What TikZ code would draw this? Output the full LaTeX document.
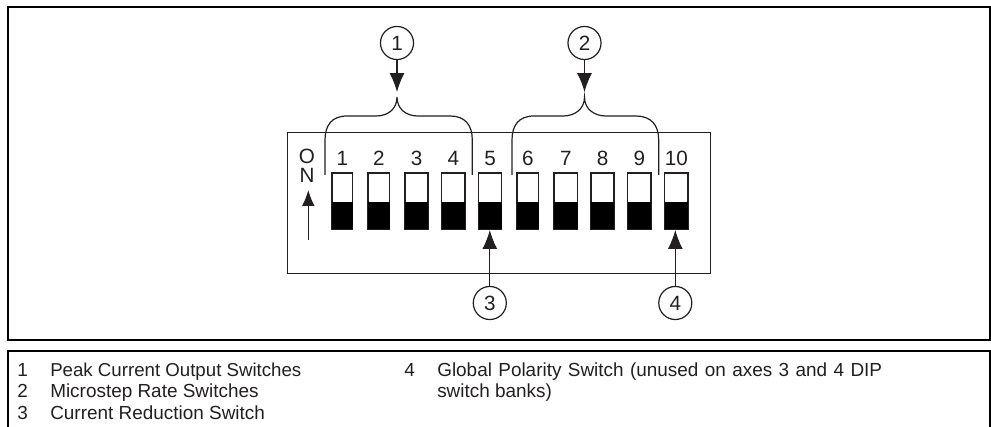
\documentclass[tikz,border=0pt]{standalone}
\usepackage{fontspec}
\setmainfont{Liberation Sans}
\usetikzlibrary{arrows.meta}
\definecolor{myink}{RGB}{35, 31, 32}
\tikzset{>={Latex[length=14.2pt,width=11.2pt]}}
\tikzset{lead/.style = {draw = myink, line width = 0.9pt},
  callout/.style = {circle, draw = myink, line width = 0.9pt, minimum size = 24.8pt, inner sep = 0pt, text = myink, font = \fontsize{15.5}{15.5}\selectfont},
  dipnum/.style = {text = myink, inner sep = 0pt, font = \fontsize{15.5}{15.5}\selectfont},
  legtext/.style = {anchor = base west, text = myink, inner sep = 0pt, font = \fontsize{14.2}{15}\selectfont},
  dipslot/.style = {draw = myink, line width = 0.9pt}}

\begin{document}
\begin{tikzpicture}[x = 0.75pt, y = -0.75pt]
\useasboundingbox (0,0) rectangle (991,427);
\draw[line width = 1.5pt] (8,7) rectangle (990,340);
\draw[line width = 1.5pt] (8,427) -- (8,351) -- (990,351) -- (990,427);
\draw[draw = myink, line width = 0.75pt] (287.5,132.5) rectangle (710.5,273.5);
% the ten switches
\foreach \n/\xa/\xb in {1/332/352.5, 2/368/389.5, 3/405/428, 4/441.5/465, 5/478.5/501.5, 6/517/538.5, 7/554/577.5, 8/591/614, 9/627.5/651, 10/664.5/688}
{
\draw[dipslot] (\xa,173) rectangle (\xb,229);
\fill[black] (\xa,202) rectangle (\xb,229);
\node[dipnum] (num\n) at ({(\xa+\xb)/2},158) {\n};
}
\node[dipnum] (onO) at (307,156.5) {O};
\node[dipnum] (onN) at (307,175.5) {N};
\coordinate (onfoot) at (308.3,240);
\coordinate (ontip) at (308.3,190);
\draw[lead, -{Latex[length=12pt,width=9.5pt]}] (onfoot) -- (ontip);
% the two brackets
\draw[lead] (325,175) -- (325,140) .. controls (325,125) and (332,116) .. (347,116) -- (376,116) .. controls (388,116) and (397,109) .. (397,97) .. controls (397,109) and (406,116) .. (418,116) -- (450,116) .. controls (465,116) and (472.3,125) .. (472.3,140) -- (472.3,175);
\draw[lead] (512,175) -- (512,140) .. controls (512,125) and (519,116) .. (534,116) -- (563,116) .. controls (575,116) and (584.5,109) .. (584.5,97) .. controls (584.5,109) and (594,116) .. (606,116) -- (636,116) .. controls (651,116) and (658.7,125) .. (658.7,140) -- (658.7,175);
% the callouts
\node[callout] (c1) at (397,43) {1};
\node[callout] (c2) at (584.5,43) {2};
\node[callout] (c3) at (489.8,303) {3};
\node[callout] (c4) at (675.3,303) {4};
\coordinate (t1) at (397,92);
\coordinate (t2) at (584.5,92);
\coordinate (t3) at (489.8,230);
\coordinate (t4) at (675.3,230);
\foreach \i in {1,2,3,4}
\draw[lead, ->] (c\i) -- (t\i);
% legend
\node[legtext] (k1) at (17,376) {1};
\node[legtext, font = \fontsize{14}{15}\selectfont] (l1) at (50,376) {Peak Current Output Switches};
\node[legtext] (k2) at (17,397.5) {2};
\node[legtext] (l2) at (50,397.5) {Microstep Rate Switches};
\node[legtext] (k3) at (17,419) {3};
\node[legtext] (l3) at (50,419) {Current Reduction Switch};
\node[legtext] (k4) at (404,376) {4};
\node[legtext] (l4) at (437,376) {\spaceskip=4.8pt Global Polarity Switch (unused on axes 3 and 4 DIP};
\node[legtext] (l5) at (437,397.5) {switch banks)};
\end{tikzpicture}
\end{document}
